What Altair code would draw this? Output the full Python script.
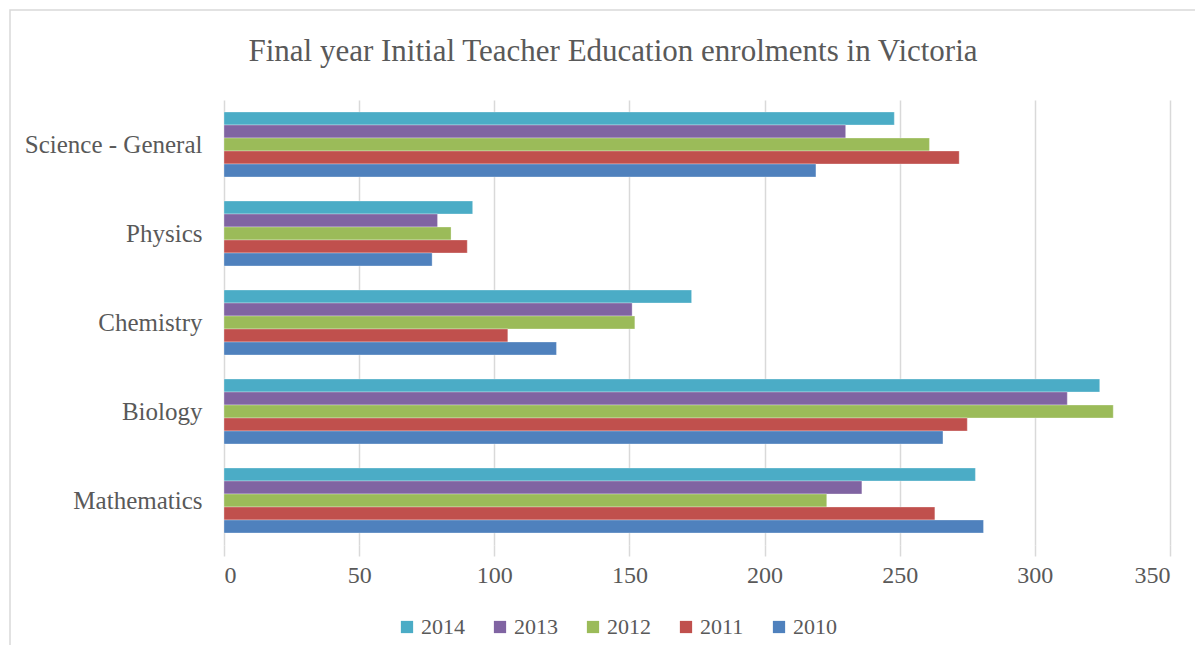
import altair as alt
import pandas as pd

subjects = ["Science - General", "Physics", "Chemistry", "Biology", "Mathematics"]
years = ["2014", "2013", "2012", "2011", "2010"]
colors = ["#4BACC6", "#8064A2", "#9BBB59", "#C0504D", "#4F81BD"]

v2014 = [248, 92, 173, 324, 278]
v2013 = [230, 79, 151, 312, 236]
v2012 = [261, 84, 152, 329, 223]
v2011 = [272, 90, 105, 275, 263]
v2010 = [219, 77, 123, 266, 281]

series = {"2014": v2014, "2013": v2013, "2012": v2012, "2011": v2011, "2010": v2010}
rows = []
for y in years:
    for s, v in zip(subjects, series[y]):
        rows.append({"Subject": s, "Year": y, "Enrolments": v})
df = pd.DataFrame(rows)

FONT = "Liberation Serif"
GREY = "#595959"

bars = alt.Chart(df).mark_bar(stroke="white", strokeWidth=0.6, strokeOpacity=0.5).encode(
    y=alt.Y("Subject:N", sort=subjects, title=None,
            scale=alt.Scale(paddingInner=0.27, paddingOuter=0.135),
            axis=alt.Axis(ticks=False, domain=False, labelFontSize=25, labelColor=GREY,
                          labelFont=FONT, labelPadding=22, grid=False)),
    yOffset=alt.YOffset("Year:N", sort=years, scale=alt.Scale(paddingInner=0, paddingOuter=0)),
    x=alt.X("Enrolments:Q", title=None,
            scale=alt.Scale(domain=[0, 350], nice=False),
            axis=alt.Axis(values=[0, 50, 100, 150, 200, 250, 300, 350], domain=False,
                          ticks=True, tickSize=11, tickColor="#d9d9d9", tickWidth=1.5,
                          gridColor="#d9d9d9", gridWidth=1.5,
                          labelFontSize=24, labelColor=GREY, labelFont=FONT, labelPadding=7)),
    color=alt.Color("Year:N", sort=years,
                    scale=alt.Scale(domain=years, range=colors),
                    legend=alt.Legend(title=None, orient="none", direction="horizontal",
                                      legendX=172, legendY=516, symbolType="square",
                                      symbolSize=150, symbolStrokeWidth=0,
                                      labelFontSize=22, labelColor=GREY, labelFont=FONT,
                                      columnPadding=24, labelOffset=3)),
)

frame = alt.Chart(pd.DataFrame({"k": [0]})).mark_rect(
    fill=None, stroke="#d9d9d9", strokeWidth=1.5
).encode(x=alt.value(-214), x2=alt.value(1100), y=alt.value(-90), y2=alt.value(600))

chart = alt.layer(frame, bars).properties(
    width=946, height=445,
    title=alt.TitleParams("Final year Initial Teacher Education enrolments in Victoria",
                          fontSize=31, font=FONT, color=GREY, fontWeight="normal",
                          anchor="middle", frame="group", dx=-84, offset=-59),
    autosize=alt.AutoSizeParams(type="none"),
    padding={"left": 216, "top": 92, "right": 25, "bottom": 100},
).configure_view(stroke=None)

chart.save("out.html", embed_options={"renderer": "svg", "actions": False})
